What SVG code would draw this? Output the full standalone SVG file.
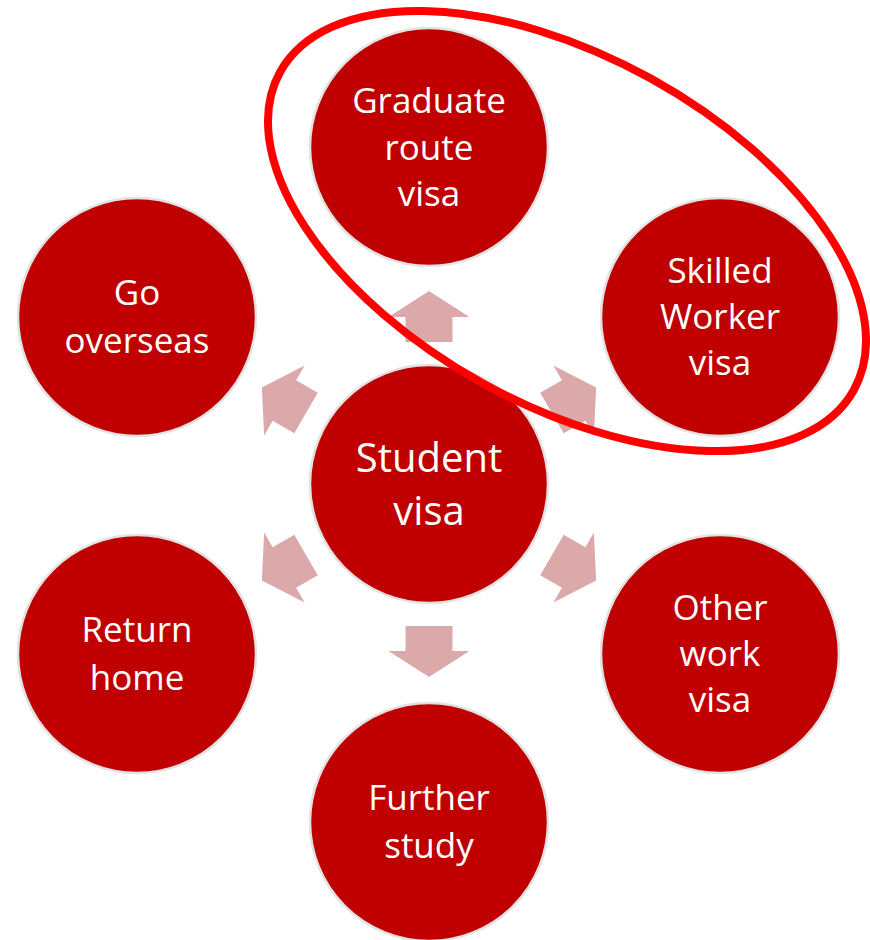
<svg xmlns="http://www.w3.org/2000/svg" width="870" height="940" viewBox="0 0 870 940">
<defs>
<style>
.node circle{fill:#C00000;stroke:#E2E2E2;stroke-width:2.5}
.node text{fill:#FFFFFF;font-family:"Open Sans","Noto Sans",sans-serif;font-size:35px;text-anchor:middle}
.center text{font-size:40px}
.arrow{fill:#DCA9AA}
</style>
<path id="arr" d="M142,-23.5 L167,-23.5 L167,-40.5 L193,0 L167,40.5 L167,23.5 L142,23.5 Z"/>
</defs>
<rect width="870" height="940" fill="#FFFFFF"/>
<g id="connectors" class="arrow">
<use href="#arr" transform="translate(429,484) rotate(-90)"/>
<use href="#arr" transform="translate(429,484) rotate(-30)"/>
<use href="#arr" transform="translate(429,484) rotate(30)"/>
<use href="#arr" transform="translate(429,484) rotate(90)"/>
<use href="#arr" transform="translate(429,484) rotate(150)"/>
<use href="#arr" transform="translate(429,484) rotate(210)"/>
</g>
<g id="student" class="node center">
<circle cx="429" cy="484" r="119"/>
<text x="429" y="472">Student</text>
<text x="429" y="525">visa</text>
</g>
<g id="graduate" class="node">
<circle cx="429" cy="147" r="119"/>
<text x="429" y="113">Graduate</text>
<text x="429" y="160">route</text>
<text x="429" y="206">visa</text>
</g>
<g id="skilled" class="node">
<circle cx="720" cy="317" r="119"/>
<text x="720" y="283">Skilled</text>
<text x="720" y="329">Worker</text>
<text x="720" y="375">visa</text>
</g>
<g id="otherwork" class="node">
<circle cx="720" cy="654" r="119"/>
<text x="720" y="620">Other</text>
<text x="720" y="666">work</text>
<text x="720" y="712">visa</text>
</g>
<g id="further" class="node">
<circle cx="429" cy="822" r="119"/>
<text x="429" y="810">Further</text>
<text x="429" y="858">study</text>
</g>
<g id="returnhome" class="node">
<circle cx="137" cy="654" r="119"/>
<text x="137" y="642">Return</text>
<text x="137" y="690">home</text>
</g>
<g id="overseas" class="node">
<circle cx="137" cy="317" r="119"/>
<text x="137" y="305">Go</text>
<text x="137" y="353">overseas</text>
</g>
<ellipse id="highlight" cx="567" cy="231" rx="328" ry="174" transform="rotate(29 567 231)" fill="none" stroke="#FF0000" stroke-width="8"/>
</svg>
